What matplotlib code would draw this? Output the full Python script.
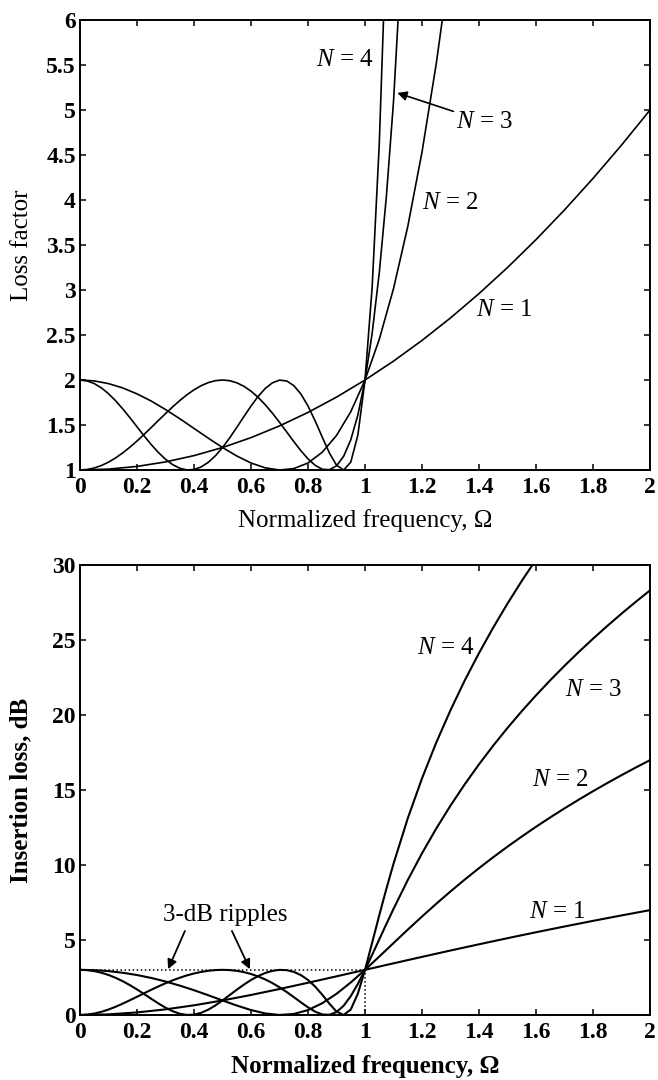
import matplotlib
matplotlib.use('Agg')
import matplotlib.pyplot as plt

# ---------------- data ----------------
omega_n1 = [0.0, 0.1, 0.2, 0.3, 0.4, 0.5, 0.6, 0.7, 0.8, 0.9, 1.0,
            1.1, 1.2, 1.3, 1.4, 1.5, 1.6, 1.7, 1.8, 1.9, 2.0]
lf_n1 = [1.00, 1.01, 1.04, 1.09, 1.16, 1.25, 1.36, 1.49, 1.64, 1.81, 2.00,
         2.21, 2.44, 2.69, 2.96, 3.25, 3.56, 3.89, 4.24, 4.61, 5.00]
il_n1 = [0.000, 0.043, 0.170, 0.374, 0.645, 0.969, 1.335, 1.732, 2.148, 2.577, 3.010,
         3.444, 3.874, 4.298, 4.713, 5.119, 5.515, 5.900, 6.274, 6.637, 6.990]

omega_n2 = [0.00, 0.05, 0.10, 0.15, 0.20, 0.25, 0.30, 0.35, 0.40, 0.45, 0.50,
            0.55, 0.60, 0.65, 0.70, 0.75, 0.80, 0.85, 0.90, 0.95, 1.00,
            1.05, 1.10, 1.15, 1.20, 1.25, 1.30, 1.35, 1.40, 1.45, 1.50,
            1.55, 1.60, 1.65, 1.70, 1.75, 1.80, 1.85, 1.90, 1.95, 2.00]
lf_n2 = [2.000, 1.990, 1.960, 1.912, 1.846, 1.766, 1.672, 1.570, 1.462, 1.354, 1.250,
         1.156, 1.078, 1.024, 1.000, 1.016, 1.078, 1.198, 1.384, 1.648, 2.000,
         2.452, 3.016, 3.706, 4.534, 5.516, 6.664, 7.996, 9.526, 11.272, 13.250,
         15.478, 17.974, 20.758, 23.848, 27.266, 31.030, 35.164, 39.688, 44.626, 50.000]
il_n2 = [3.010, 2.989, 2.923, 2.815, 2.663, 2.469, 2.233, 1.959, 1.651, 1.316, 0.969,
         0.630, 0.328, 0.103, 0.002, 0.067, 0.328, 0.785, 1.413, 2.170, 3.010,
         3.895, 4.795, 5.689, 6.565, 7.416, 8.237, 9.029, 9.789, 10.520, 11.222,
         11.897, 12.547, 13.172, 13.775, 14.356, 14.918, 15.461, 15.987, 16.496, 16.990]

omega_fine = [0.000, 0.025, 0.050, 0.075, 0.100, 0.125, 0.150, 0.175, 0.200, 0.225,
              0.250, 0.275, 0.300, 0.325, 0.350, 0.375, 0.400, 0.425, 0.450, 0.475,
              0.500, 0.525, 0.550, 0.575, 0.600, 0.625, 0.650, 0.675, 0.700, 0.725,
              0.750, 0.775, 0.800, 0.825, 0.850, 0.875, 0.900, 0.925, 0.950, 0.975,
              1.000, 1.025, 1.050, 1.075, 1.100,
              1.15, 1.20, 1.25, 1.30, 1.35, 1.40, 1.45, 1.50, 1.55, 1.60,
              1.65, 1.70, 1.75, 1.80, 1.85, 1.90, 1.95, 2.00]

lf_n3 = [1.0000, 1.0056, 1.0224, 1.0499, 1.0876, 1.1348, 1.1905, 1.2536, 1.3226, 1.3962,
         1.4727, 1.5503, 1.6273, 1.7017, 1.7718, 1.8355, 1.8911, 1.9369, 1.9712, 1.9926,
         2.0000, 1.9924, 1.9692, 1.9304, 1.8761, 1.8072, 1.7251, 1.6317, 1.5300, 1.4234,
         1.3164, 1.2144, 1.1239, 1.0524, 1.0087, 1.0030, 1.0467, 1.1527, 1.3358, 1.6122,
         2.0000, 2.5192, 3.1919, 4.0422, 5.0966,
         7.935, 11.969, 17.504, 24.893, 34.541, 46.914, 62.536, 82.00, 105.97, 135.19,
         170.48, 212.76, 263.04, 322.41, 392.11, 473.45, 567.89, 677.00]
il_n3 = [0.000, 0.024, 0.096, 0.211, 0.365, 0.549, 0.757, 0.982, 1.214, 1.450,
         1.681, 1.904, 2.115, 2.309, 2.484, 2.638, 2.767, 2.871, 2.947, 2.994,
         3.010, 2.994, 2.943, 2.857, 2.733, 2.570, 2.368, 2.127, 1.847, 1.533,
         1.194, 0.844, 0.507, 0.222, 0.038, 0.013, 0.198, 0.617, 1.258, 2.074,
         3.010, 4.013, 5.041, 6.066, 7.073,
         8.996, 10.781, 12.431, 13.961, 15.383, 16.713, 17.961, 19.138, 20.252, 21.309,
         22.317, 23.279, 24.200, 25.084, 25.934, 26.753, 27.542, 28.306]

lf_n4 = [2.0000, 1.9900, 1.9605, 1.9125, 1.8479, 1.7690, 1.6791, 1.5814, 1.4800, 1.3788,
         1.2822, 1.1943, 1.1189, 1.0597, 1.0196, 1.0011, 1.0057, 1.0339, 1.0852, 1.1582,
         1.2500, 1.3567, 1.4733, 1.5937, 1.7110, 1.8178, 1.9062, 1.9687, 1.9984, 1.9895,
         1.9385, 1.8446, 1.7110, 1.5461, 1.3648, 1.1897, 1.0535, 1.0001, 1.0876, 1.3900,
         2.0000, 3.0321, 4.6254, 6.9475, 10.198,
         20.466, 37.830, 65.501, 107.68, 170.05, 258.69, 382.97, 553.25, 782.54, 1086.6]
il_n4 = [3.010, 2.989, 2.924, 2.816, 2.667, 2.477, 2.251, 1.990, 1.703, 1.395,
         1.080, 0.771, 0.488, 0.252, 0.084, 0.005, 0.024, 0.145, 0.355, 0.638,
         0.969, 1.325, 1.683, 2.024, 2.333, 2.595, 2.802, 2.942, 3.007, 2.988,
         2.875, 2.659, 2.333, 1.892, 1.351, 0.754, 0.226, 0.001, 0.365, 1.430,
         3.010, 4.817, 6.651, 8.418, 10.085,
         13.111, 15.778, 18.162, 20.321, 22.306, 24.128, 25.832, 27.429, 28.935, 30.361]
omega_n4 = omega_fine[:len(lf_n4)]

ripple_db = 3.01

x_ticks = [0, 0.2, 0.4, 0.6, 0.8, 1.0, 1.2, 1.4, 1.6, 1.8, 2.0]
x_ticklabels = ['0', '0.2', '0.4', '0.6', '0.8', '1', '1.2', '1.4', '1.6', '1.8', '2']
lf_ticks = [1, 1.5, 2, 2.5, 3, 3.5, 4, 4.5, 5, 5.5, 6]
lf_ticklabels = ['1', '1.5', '2', '2.5', '3', '3.5', '4', '4.5', '5', '5.5', '6']
il_ticks = [0, 5, 10, 15, 20, 25, 30]
il_ticklabels = ['0', '5', '10', '15', '20', '25', '30']

# ---------------- styling ----------------
plt.rcParams['font.family'] = ['Liberation Serif', 'DejaVu Serif']
plt.rcParams['mathtext.fontset'] = 'custom'
plt.rcParams['mathtext.it'] = 'Liberation Serif:italic'
plt.rcParams['mathtext.rm'] = 'Liberation Serif'

FS = 17      # tick labels
FL = 18      # axis labels / annotations

fig = plt.figure(figsize=(6.58, 10.8), dpi=100)
ax1 = fig.add_axes([0.1216, 0.5648, 0.8663, 0.4167])
ax2 = fig.add_axes([0.1216, 0.0602, 0.8663, 0.4167])

def style(ax):
    for s in ax.spines.values():
        s.set_linewidth(1.4)
        s.set_color('black')
    ax.tick_params(direction='in', top=True, right=True, length=4, width=1.1,
                   colors='black', labelsize=FS)
    ax.tick_params(axis='x', pad=5)
    ax.tick_params(axis='y', pad=3)

# ---------------- top: loss factor ----------------
lw1 = 1.2
ax1.plot(omega_n1, lf_n1, color='black', lw=lw1)
ax1.plot(omega_n2, lf_n2, color='black', lw=lw1)
ax1.plot(omega_fine, lf_n3, color='black', lw=lw1)
ax1.plot(omega_n4, lf_n4, color='black', lw=lw1)
ax1.set_xlim(0, 2)
ax1.set_ylim(1, 6)
style(ax1)
ax1.set_xticks(x_ticks)
ax1.set_xticklabels(x_ticklabels, fontweight='bold')
ax1.set_yticks(lf_ticks)
ax1.set_yticklabels(lf_ticklabels, fontweight='bold')
ax1.set_xlabel('Normalized frequency, Ω', fontsize=FL)
ax1.set_ylabel('Loss factor', fontsize=FL)
ax1.xaxis.set_label_coords(0.5, -0.086)
ax1.yaxis.set_label_coords(-0.083, 0.5)

ax1.text(1.03, 5.55, r'$N$ = 4', fontsize=FL, ha='right', va='center')
ax1.annotate(r'$N$ = 3', xy=(1.113, 5.19), xytext=(1.32, 4.87), fontsize=FL,
             ha='left', va='center',
             arrowprops=dict(arrowstyle='-|>', color='black', lw=1.2,
                             shrinkA=0, shrinkB=0, mutation_scale=14))
ax1.text(1.30, 3.97, r'$N$ = 2', fontsize=FL, ha='center', va='center')
ax1.text(1.49, 2.78, r'$N$ = 1', fontsize=FL, ha='center', va='center')

# ---------------- bottom: insertion loss ----------------
lw2 = 1.5
ax2.plot(omega_n1, il_n1, color='black', lw=lw2)
ax2.plot(omega_n2, il_n2, color='black', lw=lw2)
ax2.plot(omega_fine, il_n3, color='black', lw=lw2)
ax2.plot(omega_n4, il_n4, color='black', lw=lw2)
ax2.plot([0, 1], [ripple_db, ripple_db], color='black', lw=1.1, ls=':')
ax2.plot([1, 1], [0, ripple_db], color='black', lw=1.1, ls=':')
ax2.set_xlim(0, 2)
ax2.set_ylim(0, 30)
style(ax2)
ax2.set_xticks(x_ticks)
ax2.set_xticklabels(x_ticklabels, fontweight='bold')
ax2.set_yticks(il_ticks)
ax2.set_yticklabels(il_ticklabels, fontweight='bold')
ax2.set_xlabel('Normalized frequency, Ω', fontsize=FL, fontweight='bold')
ax2.set_ylabel('Insertion loss, dB', fontsize=FL, fontweight='bold')
ax2.xaxis.set_label_coords(0.5, -0.09)
ax2.yaxis.set_label_coords(-0.083, 0.5)

ax2.text(1.284, 24.47, r'$N$ = 4', fontsize=FL, ha='center', va='center')
ax2.text(1.80, 21.67, r'$N$ = 3', fontsize=FL, ha='center', va='center')
ax2.text(1.684, 15.67, r'$N$ = 2', fontsize=FL, ha='center', va='center')
ax2.text(1.675, 6.87, r'$N$ = 1', fontsize=FL, ha='center', va='center')

ax2.text(0.509, 6.67, '3-dB ripples', fontsize=FL, ha='center', va='center')
arrow_kw = dict(arrowstyle='-|>', color='black', lw=1.3, shrinkA=0, shrinkB=0,
                mutation_scale=14)
ax2.annotate('', xy=(0.309, 3.05), xytext=(0.368, 5.6), arrowprops=arrow_kw)
ax2.annotate('', xy=(0.596, 3.05), xytext=(0.533, 5.6), arrowprops=arrow_kw)

fig.savefig('out.png', dpi=100)
